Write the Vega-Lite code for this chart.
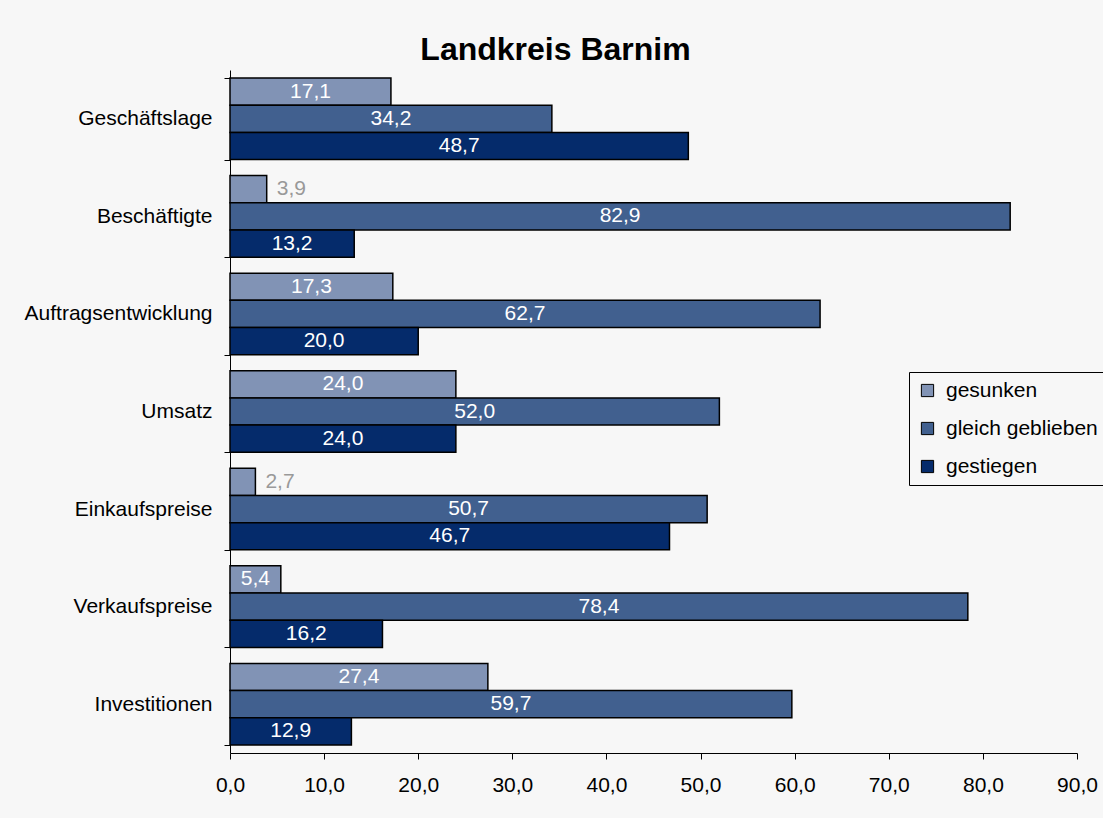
{
  "$schema": "https://vega.github.io/schema/vega-lite/v6.json",
  "autosize": "none",
  "width": 847,
  "height": 683,
  "padding": {"left": 230, "top": 70, "right": 26, "bottom": 65},
  "background": "#f7f7f7",
  "title": {
    "text": "Landkreis Barnim",
    "font": "Liberation Sans",
    "fontSize": 32,
    "fontWeight": "bold",
    "color": "black",
    "anchor": "middle",
    "dx": -98,
    "offset": -8
  },
  "data": {
    "values": [
      {"Kategorie": "Geschäftslage", "Gruppe": "gesunken", "Wert": 17.1},
      {"Kategorie": "Geschäftslage", "Gruppe": "gleich geblieben", "Wert": 34.2},
      {"Kategorie": "Geschäftslage", "Gruppe": "gestiegen", "Wert": 48.7},
      {"Kategorie": "Beschäftigte", "Gruppe": "gesunken", "Wert": 3.9},
      {"Kategorie": "Beschäftigte", "Gruppe": "gleich geblieben", "Wert": 82.9},
      {"Kategorie": "Beschäftigte", "Gruppe": "gestiegen", "Wert": 13.2},
      {"Kategorie": "Auftragsentwicklung", "Gruppe": "gesunken", "Wert": 17.3},
      {"Kategorie": "Auftragsentwicklung", "Gruppe": "gleich geblieben", "Wert": 62.7},
      {"Kategorie": "Auftragsentwicklung", "Gruppe": "gestiegen", "Wert": 20.0},
      {"Kategorie": "Umsatz", "Gruppe": "gesunken", "Wert": 24.0},
      {"Kategorie": "Umsatz", "Gruppe": "gleich geblieben", "Wert": 52.0},
      {"Kategorie": "Umsatz", "Gruppe": "gestiegen", "Wert": 24.0},
      {"Kategorie": "Einkaufspreise", "Gruppe": "gesunken", "Wert": 2.7},
      {"Kategorie": "Einkaufspreise", "Gruppe": "gleich geblieben", "Wert": 50.7},
      {"Kategorie": "Einkaufspreise", "Gruppe": "gestiegen", "Wert": 46.7},
      {"Kategorie": "Verkaufspreise", "Gruppe": "gesunken", "Wert": 5.4},
      {"Kategorie": "Verkaufspreise", "Gruppe": "gleich geblieben", "Wert": 78.4},
      {"Kategorie": "Verkaufspreise", "Gruppe": "gestiegen", "Wert": 16.2},
      {"Kategorie": "Investitionen", "Gruppe": "gesunken", "Wert": 27.4},
      {"Kategorie": "Investitionen", "Gruppe": "gleich geblieben", "Wert": 59.7},
      {"Kategorie": "Investitionen", "Gruppe": "gestiegen", "Wert": 12.9}
    ]
  },
  "encoding": {
    "y": {
      "field": "Kategorie",
      "type": "nominal",
      "sort": null,
      "scale": {"paddingInner": 0.164, "paddingOuter": 0.082},
      "axis": {
        "title": null,
        "labelFont": "Liberation Sans",
        "labelFontSize": 21,
        "labelColor": "black",
        "labelPadding": 12,
        "tickBand": "extent",
        "tickSize": 6,
        "tickColor": "black",
        "domainColor": "black",
        "labelLimit": 300
      }
    },
    "yOffset": {
      "field": "Gruppe",
      "type": "nominal",
      "sort": ["gesunken", "gleich geblieben", "gestiegen"],
      "scale": {"paddingInner": 0, "paddingOuter": 0}
    },
    "x": {
      "field": "Wert",
      "type": "quantitative",
      "stack": "zero",
      "scale": {"domain": [0, 90], "nice": false},
      "axis": {
        "title": null,
        "values": [0, 10, 20, 30, 40, 50, 60, 70, 80, 90],
        "format": ".1f",
        "grid": false,
        "labelFont": "Liberation Sans",
        "labelFontSize": 21,
        "labelColor": "black",
        "labelPadding": 15,
        "tickSize": 6,
        "tickColor": "black",
        "domainColor": "black",
        "labelFlush": false,
        "labelOverlap": false
      }
    }
  },
  "layer": [
    {
      "mark": {"type": "bar", "stroke": "black", "strokeWidth": 1.5},
      "encoding": {
        "color": {
          "field": "Gruppe",
          "type": "nominal",
          "scale": {
            "domain": ["gesunken", "gleich geblieben", "gestiegen"],
            "range": ["#8193b5", "#41608f", "#052b6b"]
          },
          "legend": {
            "title": null,
            "orient": "none",
            "legendX": 679,
            "legendY": 302,
            "labelFont": "Liberation Sans",
            "labelFontSize": 21,
            "labelColor": "black",
            "symbolType": "square",
            "symbolSize": 150,
            "symbolStrokeColor": "black",
            "symbolStrokeWidth": 1,
            "rowPadding": 16,
            "padding": 8,
            "strokeColor": "black",
            "fillColor": "#f7f7f7",
            "labelOffset": 8
          }
        }
      }
    },
    {
      "transform": [{"filter": "datum.Wert >= 5"}],
      "mark": {"type": "text", "color": "white", "font": "Liberation Sans", "fontSize": 21, "baseline": "middle", "align": "center"},
      "encoding": {
        "x": {"field": "Wert", "type": "quantitative", "stack": "zero", "bandPosition": 0.5},
        "text": {"field": "Wert", "type": "quantitative", "format": ".1f"}
      }
    },
    {
      "transform": [{"filter": "datum.Wert < 5"}],
      "mark": {"type": "text", "color": "#999999", "font": "Liberation Sans", "fontSize": 21, "baseline": "middle", "align": "left", "dx": 10},
      "encoding": {
        "text": {"field": "Wert", "type": "quantitative", "format": ".1f"}
      }
    }
  ],
  "config": {
    "locale": {
      "number": {"decimal": ",", "thousands": ".", "grouping": [3], "currency": ["", " €"]}
    },
    "view": {"stroke": null}
  }
}
